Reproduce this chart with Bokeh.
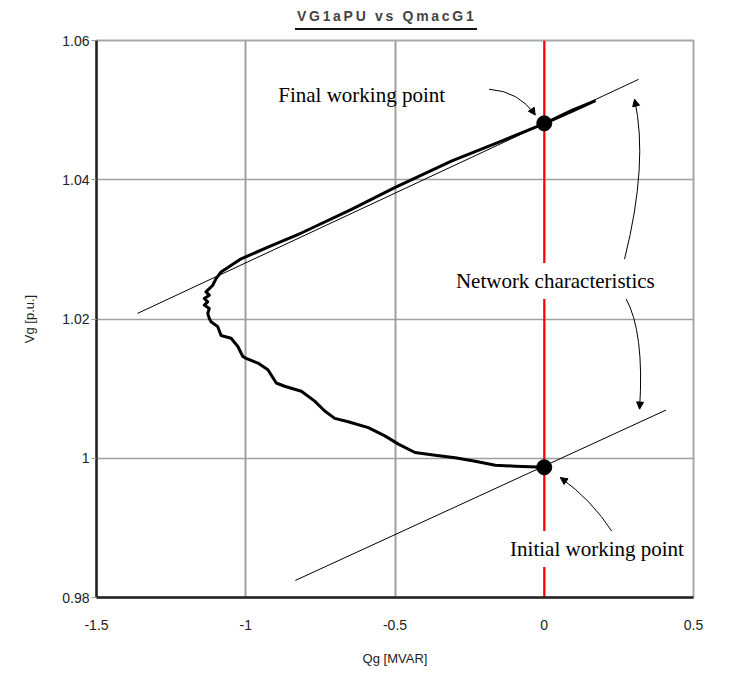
from bokeh.plotting import figure
from bokeh.models import (Div, Label, Arrow, NormalHead, Span, FixedTicker,
                          CustomJSTickFormatter)
from bokeh.layouts import column
from bokeh.embed import file_html
from bokeh.resources import INLINE

# ---------------- data ----------------
title_text = "VG1aPU vs QmacG1"
x_label = "Qg [MVAR]"
y_label = "Vg [p.u.]"
x_ticks = [-1.5, -1, -0.5, 0, 0.5]
y_ticks = [0.98, 1.0, 1.02, 1.04, 1.06]

# generator trajectory Qg [MVAR] / Vg [p.u.]
q_traj = [0.0, -0.0965, -0.164, -0.2313, -0.2986, -0.3658, -0.433, -0.4886,
          -0.5339, -0.5894, -0.6567, -0.7018, -0.7354, -0.769, -0.8137,
          -0.8699, -0.8978, -0.9257, -0.9593, -0.9987, -1.0097, -1.0265,
          -1.0491, -1.0827, -1.0938, -1.1163, -1.1221, -1.1274, -1.1221,
          -1.1389, -1.1274, -1.1389, -1.1221, -1.1332, -1.1221, -1.1106,
          -1.0995, -1.0827, -1.0155, -0.9257, -0.8137, -0.6456, -0.501,
          -0.3093, -0.1412, 0.0, 0.0941, 0.1681, 0.0941, 0.0]
v_traj = [0.9987, 0.99886, 0.9990, 0.99957, 1.00007, 1.00043, 1.00083,
          1.00203, 1.00321, 1.00439, 1.00525, 1.00573, 1.00678, 1.0082,
          1.00963, 1.01034, 1.01081, 1.01272, 1.01367, 1.01434, 1.01462,
          1.01605, 1.01723, 1.01762, 1.0189, 1.01961, 1.02009, 1.0208,
          1.02151, 1.022, 1.02247, 1.02294, 1.02342, 1.02389, 1.02437,
          1.02485, 1.02579, 1.02675, 1.02864, 1.03031, 1.03235, 1.03574,
          1.03887, 1.04272, 1.04558, 1.04805, 1.04986, 1.05128, 1.0500,
          1.04805]

# network characteristics (straight lines)
net_upper_q = [-1.3628, 0.3161]
net_upper_v = [1.0208, 1.05442]
net_lower_q = [-0.8339, 0.4079]
net_lower_v = [0.98245, 1.00692]

# working points
wp_q = [0.0, 0.0]
wp_v = [0.9987, 1.0481]

# ---------------- title ----------------
title_div = Div(
    text=('<span style="display:inline-block;margin-left:295px;margin-top:9px;'
          'padding:0 1px 5px 2px;font-family:\'Liberation Sans\';font-size:14px;'
          'font-weight:bold;line-height:14px;letter-spacing:2.7px;color:#444;'
          'border-bottom:2px solid #111;white-space:nowrap;">'
          + title_text + '</span>'),
    width=739, height=32, margin=(0, 0, 0, 0))

# ---------------- figure ----------------
p = figure(width=739, height=642, x_range=(-1.5, 0.5), y_range=(0.98, 1.06),
           output_backend="svg", toolbar_location=None,
           min_border_left=96, min_border_right=46,
           min_border_top=8, min_border_bottom=77)

p.background_fill_color = "white"
p.border_fill_color = "white"
p.outline_line_color = "#a8a8a8"
p.outline_line_width = 2

fmt = "return tick.toString();"
p.xaxis.ticker = FixedTicker(ticks=x_ticks)
p.yaxis.ticker = FixedTicker(ticks=y_ticks)
p.xaxis.formatter = CustomJSTickFormatter(code=fmt)
p.yaxis.formatter = CustomJSTickFormatter(code=fmt)

for ax in (p.xaxis[0], p.yaxis[0]):
    ax.axis_line_color = "#222"
    ax.axis_line_width = 2.5
    ax.minor_tick_line_color = None
    ax.major_label_text_font = "Liberation Sans"
    ax.major_label_text_font_size = "14px"
    ax.major_label_text_color = "#222"
    ax.axis_label_text_font = "Liberation Sans"
    ax.axis_label_text_font_size = "13px"
    ax.axis_label_text_font_style = "normal"
    ax.axis_label_text_color = "#222"

p.xaxis.axis_label = x_label
p.yaxis.axis_label = y_label
p.xaxis.major_tick_line_color = None
p.xaxis.major_tick_out = 0
p.xaxis.major_tick_in = 0
p.xaxis.major_label_standoff = 22
p.xaxis.axis_label_standoff = 18
p.yaxis.major_tick_line_color = "#999"
p.yaxis.major_tick_out = 5
p.yaxis.major_tick_in = 0
p.yaxis.major_label_standoff = 2
p.yaxis.axis_label_standoff = 22

p.xgrid.grid_line_color = "#a0a0a0"
p.xgrid.grid_line_width = 2
p.ygrid.grid_line_color = "#a0a0a0"
p.ygrid.grid_line_width = 1.5

# red reference line at Qg = 0
p.add_layout(Span(location=0, dimension="height", line_color="#ff0000",
                  line_width=2, level="underlay"))

# network characteristics
p.line(net_upper_q, net_upper_v, line_color="black", line_width=1)
p.line(net_lower_q, net_lower_v, line_color="black", line_width=1)

# trajectory
p.line(q_traj, v_traj, line_color="black", line_width=3, line_join="round")

# working points
p.scatter(wp_q, wp_v, size=15, fill_color="black", line_color="black")

# ---------------- annotations ----------------
curves = [
    # (x0, y0, cx, cy, x1, y1, arrow start x, arrow start y)
    (-0.1849, 1.05300, -0.0841, 1.05271, -0.0303, 1.04929, -0.0414, 1.05000),
    (0.2690, 1.02860, 0.3497, 1.04244, 0.3026, 1.05157, 0.3070, 1.05073),
    (0.2724, 1.02304, 0.3362, 1.01819, 0.3194, 1.00706, 0.3208, 1.00792),
    (0.2287, 0.98937, 0.1580, 0.99408, 0.0538, 0.99722, 0.0703, 0.99672),
]
for x0, y0, cx, cy, x1, y1, sx, sy in curves:
    p.quadratic(x0=[x0], y0=[y0], cx=[cx], cy=[cy], x1=[x1], y1=[y1],
                line_color="black", line_width=1)
    p.add_layout(Arrow(x_start=sx, y_start=sy, x_end=x1, y_end=y1,
                       line_color="black", line_width=1,
                       end=NormalHead(size=7, fill_color="black",
                                      line_color="black")))

labels = [
    ("Final working point", -0.9112, 1.05214, False),
    ("Network characteristics", -0.3161, 1.02546, True),
    ("Initial working point", -0.1345, 0.98695, True),
]
for txt, lx, ly, bg in labels:
    p.add_layout(Label(x=lx, y=ly, text=txt, text_font="Liberation Serif",
                       text_font_size="21px", text_color="black",
                       text_baseline="middle", text_align="left",
                       background_fill_color="white" if bg else None,
                       padding=6))

layout = column(title_div, p)
open("out.html", "w").write(file_html(layout, INLINE))
